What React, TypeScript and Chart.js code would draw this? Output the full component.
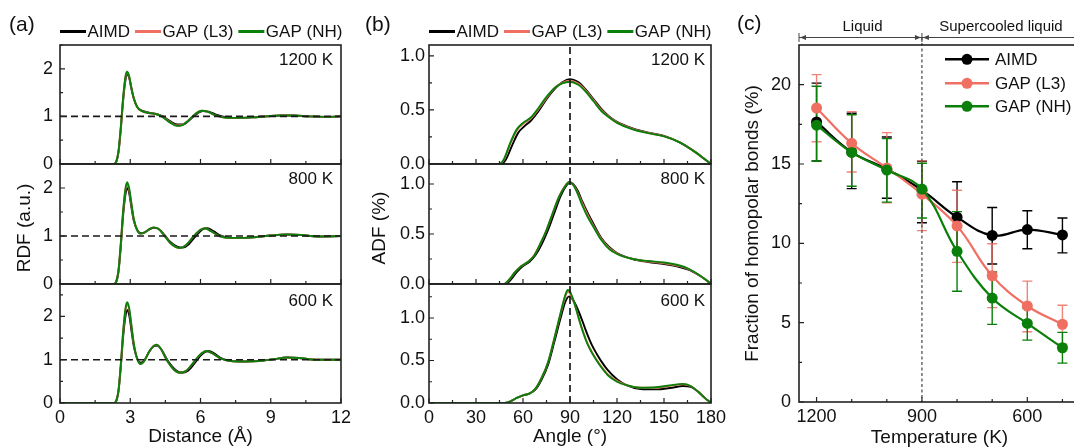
import React, { useEffect, useRef } from 'react';
import { Chart, registerables } from 'chart.js';

Chart.register(...registerables);

type Pt = [number, number];

// ---------------- Panel (a): RDF ----------------
const RDF_X_TICKS = [0, 3, 6, 9, 12];
const RDF_X_MINOR = [1.5, 4.5, 7.5, 10.5];
const RDF_Y_TICKS = [0, 1, 2];
const RDF_Y_MINOR = [0.5, 1.5, 2.5];
const RDF_Y_MAX = [2.5, 2.5, 2.75];
const TEMP_LABELS = ['1200 K', '800 K', '600 K'];
const RDF_REF_LINE: Pt[] = [[0, 1], [12, 1]];

const RDF_1200_AIMD: Pt[] = [[0,0],[2.3,0],[2.4,0.04],[2.5,0.25],[2.6,0.75],[2.7,1.35],[2.8,1.78],[2.88,1.89],[2.96,1.8],[3.05,1.58],[3.15,1.38],[3.3,1.2],[3.5,1.12],[3.8,1.08],[4.1,1.05],[4.4,1.0],[4.7,0.9],[5.0,0.83],[5.25,0.83],[5.5,0.91],[5.8,1.04],[6.1,1.11],[6.35,1.1],[6.7,1.03],[7.1,0.98],[7.6,0.97],[8.2,0.98],[8.8,1.0],[9.4,1.02],[10.0,1.02],[10.6,1.0],[11.3,0.99],[12,1.0]];
const RDF_1200_L3: Pt[] = [[0,0],[2.3,0],[2.4,0.05],[2.5,0.27],[2.6,0.78],[2.7,1.4],[2.8,1.83],[2.87,1.92],[2.95,1.84],[3.05,1.6],[3.15,1.38],[3.3,1.19],[3.5,1.11],[3.8,1.07],[4.1,1.05],[4.4,0.99],[4.7,0.88],[5.0,0.81],[5.2,0.82],[5.45,0.9],[5.75,1.04],[6.05,1.12],[6.3,1.1],[6.65,1.02],[7.1,0.97],[7.6,0.97],[8.2,0.98],[8.8,1.0],[9.4,1.02],[10.0,1.02],[10.6,1.0],[11.3,0.99],[12,1.0]];
const RDF_1200_NH: Pt[] = [[0,0],[2.3,0],[2.4,0.05],[2.5,0.28],[2.6,0.8],[2.7,1.42],[2.8,1.85],[2.87,1.94],[2.95,1.85],[3.05,1.6],[3.15,1.38],[3.3,1.19],[3.5,1.11],[3.8,1.07],[4.1,1.05],[4.4,0.98],[4.7,0.87],[5.0,0.8],[5.2,0.81],[5.45,0.9],[5.75,1.04],[6.05,1.12],[6.3,1.1],[6.65,1.02],[7.1,0.97],[7.6,0.97],[8.2,0.98],[8.8,1.0],[9.4,1.02],[10.0,1.02],[10.6,1.0],[11.3,0.99],[12,1.0]];

const RDF_800_AIMD: Pt[] = [[0,0],[2.3,0],[2.4,0.04],[2.5,0.26],[2.6,0.8],[2.7,1.45],[2.8,1.88],[2.88,2.0],[2.96,1.88],[3.05,1.6],[3.15,1.32],[3.3,1.12],[3.45,1.06],[3.6,1.07],[3.8,1.13],[4.0,1.17],[4.2,1.15],[4.45,1.03],[4.7,0.88],[5.0,0.78],[5.25,0.76],[5.5,0.83],[5.8,1.0],[6.1,1.14],[6.3,1.16],[6.55,1.1],[6.9,1.0],[7.3,0.96],[7.8,0.96],[8.4,0.98],[9.0,1.01],[9.7,1.03],[10.3,1.02],[11.0,0.99],[12,1.0]];
const RDF_800_L3: Pt[] = [[0,0],[2.3,0],[2.4,0.05],[2.5,0.29],[2.6,0.86],[2.7,1.52],[2.8,1.97],[2.87,2.09],[2.95,1.97],[3.05,1.66],[3.15,1.35],[3.3,1.12],[3.45,1.05],[3.6,1.07],[3.8,1.14],[4.0,1.18],[4.2,1.15],[4.45,1.02],[4.7,0.86],[4.95,0.77],[5.15,0.75],[5.4,0.82],[5.7,0.99],[6.0,1.13],[6.2,1.16],[6.45,1.1],[6.8,1.0],[7.3,0.96],[7.8,0.96],[8.4,0.98],[9.0,1.01],[9.7,1.03],[10.3,1.02],[11.0,0.99],[12,1.0]];
const RDF_800_NH: Pt[] = [[0,0],[2.3,0],[2.4,0.05],[2.5,0.3],[2.6,0.88],[2.7,1.55],[2.8,2.0],[2.87,2.12],[2.95,2.0],[3.05,1.68],[3.15,1.36],[3.3,1.12],[3.45,1.05],[3.6,1.07],[3.8,1.14],[4.0,1.18],[4.2,1.15],[4.45,1.01],[4.7,0.86],[4.95,0.77],[5.15,0.75],[5.4,0.82],[5.7,0.99],[6.0,1.13],[6.2,1.16],[6.45,1.1],[6.8,1.0],[7.3,0.96],[7.8,0.96],[8.4,0.98],[9.0,1.01],[9.7,1.03],[10.3,1.02],[11.0,0.99],[12,1.0]];

const RDF_600_AIMD: Pt[] = [[0,0],[2.3,0],[2.4,0.04],[2.5,0.28],[2.6,0.85],[2.7,1.55],[2.8,2.02],[2.88,2.15],[2.96,2.02],[3.05,1.68],[3.15,1.32],[3.3,1.02],[3.45,0.93],[3.6,0.98],[3.8,1.18],[4.0,1.31],[4.15,1.33],[4.35,1.22],[4.6,0.98],[4.9,0.78],[5.2,0.7],[5.45,0.74],[5.75,0.92],[6.05,1.12],[6.35,1.2],[6.6,1.14],[6.9,1.03],[7.3,0.97],[7.9,0.96],[8.5,0.97],[9.1,1.01],[9.7,1.05],[10.2,1.04],[10.9,1.0],[12,1.0]];
const RDF_600_L3: Pt[] = [[0,0],[2.3,0],[2.4,0.05],[2.5,0.3],[2.6,0.9],[2.7,1.65],[2.8,2.16],[2.87,2.29],[2.95,2.17],[3.05,1.78],[3.15,1.37],[3.3,1.02],[3.45,0.9],[3.6,0.97],[3.8,1.18],[4.0,1.32],[4.12,1.35],[4.3,1.26],[4.55,1.0],[4.85,0.78],[5.1,0.7],[5.35,0.73],[5.65,0.9],[5.95,1.1],[6.25,1.2],[6.5,1.15],[6.85,1.03],[7.3,0.97],[7.9,0.96],[8.5,0.97],[9.1,1.01],[9.7,1.05],[10.2,1.04],[10.9,1.0],[12,1.0]];
const RDF_600_NH: Pt[] = [[0,0],[2.3,0],[2.4,0.05],[2.5,0.3],[2.6,0.92],[2.7,1.68],[2.8,2.2],[2.87,2.33],[2.95,2.2],[3.05,1.8],[3.15,1.38],[3.3,1.02],[3.45,0.9],[3.6,0.97],[3.8,1.18],[4.0,1.32],[4.12,1.35],[4.3,1.26],[4.55,1.0],[4.85,0.78],[5.1,0.7],[5.35,0.73],[5.65,0.9],[5.95,1.1],[6.25,1.2],[6.5,1.15],[6.85,1.03],[7.3,0.97],[7.9,0.96],[8.5,0.97],[9.1,1.01],[9.7,1.05],[10.2,1.04],[10.9,1.0],[12,1.0]];

// ---------------- Panel (b): ADF ----------------
const ADF_X_TICKS = [0, 30, 60, 90, 120, 150, 180];
const ADF_X_MINOR = [15, 45, 75, 105, 135, 165];
const ADF_Y_TICKS = [0, 0.5, 1.0];
const ADF_Y_MINOR = [0.25, 0.75, 1.25];
const ADF_Y_MAX = [1.1, 1.2, 1.4];
const ADF_REF_ANGLE = 90;

const ADF_1200_AIMD: Pt[] = [[0,0],[46,0],[49,0.04],[53,0.17],[57,0.29],[61,0.35],[65,0.4],[70,0.49],[75,0.6],[80,0.69],[85,0.755],[90,0.785],[95,0.76],[100,0.69],[105,0.6],[110,0.51],[115,0.44],[120,0.39],[130,0.33],[140,0.29],[150,0.26],[160,0.2],[170,0.11],[175,0.055],[180,0]];
const ADF_1200_L3: Pt[] = [[0,0],[45,0],[48,0.045],[52,0.19],[56,0.31],[60,0.37],[65,0.42],[70,0.51],[75,0.61],[80,0.7],[85,0.75],[90,0.77],[95,0.745],[100,0.68],[105,0.59],[110,0.5],[115,0.435],[120,0.385],[130,0.325],[140,0.287],[150,0.257],[160,0.2],[170,0.11],[175,0.055],[180,0]];
const ADF_1200_NH: Pt[] = [[0,0],[45,0],[48,0.05],[52,0.2],[56,0.32],[60,0.38],[65,0.43],[70,0.52],[75,0.62],[80,0.7],[85,0.745],[90,0.76],[95,0.735],[100,0.67],[105,0.58],[110,0.49],[115,0.43],[120,0.38],[130,0.32],[140,0.285],[150,0.255],[160,0.2],[170,0.11],[175,0.055],[180,0]];

const ADF_800_AIMD: Pt[] = [[0,0],[49,0],[52,0.04],[56,0.12],[60,0.18],[64,0.22],[68,0.29],[72,0.4],[76,0.54],[80,0.71],[84,0.88],[88,0.99],[90,1.015],[92,1.0],[95,0.93],[98,0.82],[101,0.72],[105,0.6],[110,0.46],[115,0.37],[120,0.31],[130,0.25],[140,0.22],[150,0.2],[160,0.17],[166,0.14],[172,0.09],[176,0.05],[180,0]];
const ADF_800_L3: Pt[] = [[0,0],[48,0],[51,0.04],[55,0.12],[59,0.18],[63,0.22],[67,0.285],[71,0.4],[75,0.54],[79,0.71],[83,0.875],[87,0.985],[89.5,1.02],[92,0.995],[95,0.91],[98,0.8],[101,0.7],[105,0.58],[110,0.45],[115,0.36],[120,0.305],[130,0.25],[140,0.225],[150,0.208],[160,0.178],[166,0.145],[172,0.092],[176,0.05],[180,0]];
const ADF_800_NH: Pt[] = [[0,0],[48,0],[51,0.04],[55,0.12],[59,0.18],[63,0.22],[67,0.28],[71,0.4],[75,0.54],[79,0.71],[83,0.87],[87,0.98],[89.5,1.02],[92,0.99],[95,0.9],[98,0.78],[101,0.68],[105,0.57],[110,0.44],[115,0.35],[120,0.3],[130,0.25],[140,0.23],[150,0.215],[160,0.185],[166,0.15],[172,0.095],[176,0.05],[180,0]];

const ADF_600_AIMD: Pt[] = [[0,0],[48,0],[52,0.02],[56,0.06],[60,0.09],[64,0.11],[68,0.16],[72,0.28],[76,0.45],[80,0.72],[84,1.0],[87,1.19],[89.5,1.255],[92,1.21],[95,1.1],[98,0.96],[101,0.81],[104,0.68],[107,0.58],[110,0.49],[114,0.39],[120,0.28],[126,0.21],[135,0.165],[145,0.16],[155,0.18],[162,0.2],[167,0.19],[172,0.13],[176,0.06],[180,0]];
const ADF_600_L3: Pt[] = [[0,0],[48,0],[52,0.02],[56,0.06],[60,0.09],[64,0.11],[68,0.17],[72,0.3],[76,0.48],[80,0.76],[84,1.05],[87,1.25],[88.5,1.31],[90,1.29],[92,1.21],[94,1.1],[96,0.97],[98,0.86],[101,0.71],[104,0.6],[107,0.51],[110,0.43],[114,0.34],[120,0.26],[126,0.21],[135,0.18],[145,0.18],[155,0.205],[162,0.22],[167,0.2],[172,0.13],[176,0.06],[180,0]];
const ADF_600_NH: Pt[] = [[0,0],[48,0],[52,0.02],[56,0.06],[60,0.09],[64,0.11],[68,0.17],[72,0.3],[76,0.48],[80,0.76],[84,1.06],[87,1.27],[88.5,1.33],[90,1.31],[92,1.22],[94,1.1],[96,0.97],[98,0.85],[101,0.7],[104,0.59],[107,0.5],[110,0.42],[114,0.33],[120,0.25],[126,0.21],[135,0.18],[145,0.185],[155,0.21],[162,0.225],[167,0.2],[172,0.13],[176,0.06],[180,0]];

// ---------------- Panel (c): homopolar bonds ----------------
const HB_TEMPS = [1200, 1100, 1000, 900, 800, 700, 600, 500];
const HB_AIMD = [17.65, 15.75, 14.68, 13.35, 11.65, 10.5, 10.87, 10.53];
const HB_AIMD_LO = [15.2, 13.45, 12.84, 11.3, 9.4, 8.7, 9.66, 9.4];
const HB_AIMD_HI = [20.1, 18.2, 16.7, 15.17, 13.88, 12.26, 12.05, 11.6];
const HB_L3 = [18.53, 16.3, 14.75, 13.1, 11.1, 7.95, 6.05, 4.9];
const HB_L3_LO = [16.4, 14.5, 12.55, 10.8, 8.8, 5.95, 4.43, 3.65];
const HB_L3_HI = [20.63, 18.3, 16.98, 15.2, 13.35, 9.97, 7.62, 6.1];
const HB_NH = [17.45, 15.73, 14.62, 13.42, 9.5, 6.55, 4.95, 3.42];
const HB_NH_LO = [15.17, 13.6, 12.6, 11.6, 6.98, 4.89, 3.9, 2.45];
const HB_NH_HI = [19.9, 18.1, 16.6, 15.05, 12.0, 8.19, 5.9, 4.39];
const HB_X_TICKS = [1200, 900, 600];
const HB_X_MINOR = [1100, 1000, 800, 700, 500];
const HB_Y_TICKS = [0, 5, 10, 15, 20];
const HB_Y_MINOR = [2.5, 7.5, 12.5, 17.5];
const HB_X_RANGE = [450, 1250];
const HB_Y_RANGE = [0, 22.5];
const HB_BOUNDARY_T = 900;
const SERIES_NAMES = ['AIMD', 'GAP (L3)', 'GAP (NH)'];

// ---------------- styling ----------------
const FONT = "Arial, 'Liberation Sans', Helvetica, sans-serif";
const INK = '#111111';
const C_AIMD = '#000000';
const C_L3 = '#EF6F62';
const C_NH = '#0A800A';
const COLORS = [C_AIMD, C_L3, C_NH];

const toXY = (a: Pt[]) => a.map(([x, y]) => ({ x, y }));

function curve(label: string, data: Pt[], color: string, order: number) {
  return {
    label,
    data: toXY(data),
    borderColor: color,
    backgroundColor: color,
    borderWidth: 1.9,
    pointRadius: 0,
    pointHoverRadius: 0,
    fill: false,
    tension: 0.4,
    cubicInterpolationMode: 'monotone',
    order,
  };
}

function refDataset(data: Pt[]) {
  return {
    label: 'ref',
    data: toXY(data),
    borderColor: '#1a1a1a',
    borderWidth: 1.7,
    borderDash: [7, 4],
    pointRadius: 0,
    pointHoverRadius: 0,
    fill: false,
    tension: 0,
    order: 0,
  };
}

function framePlugin(spec: { xMajor: number[]; xMinor: number[]; yMajor: number[]; yMinor: number[] }) {
  return {
    id: 'frameTicks',
    afterDatasetsDraw(chart: any) {
      const { ctx, chartArea: a } = chart;
      const xs = chart.scales.x;
      const ys = chart.scales.y;
      ctx.save();
      ctx.strokeStyle = '#222222';
      ctx.lineWidth = 1.2;
      ctx.beginPath();
      const tx = (v: number, len: number) => {
        const p = xs.getPixelForValue(v);
        ctx.moveTo(p, a.bottom);
        ctx.lineTo(p, a.bottom - len);
      };
      const ty = (v: number, len: number) => {
        const p = ys.getPixelForValue(v);
        if (p < a.top - 0.5 || p > a.bottom + 0.5) return;
        ctx.moveTo(a.left, p);
        ctx.lineTo(a.left + len, p);
      };
      spec.xMajor.forEach((v) => tx(v, 5));
      spec.xMinor.forEach((v) => tx(v, 3));
      spec.yMajor.forEach((v) => ty(v, 5));
      spec.yMinor.forEach((v) => ty(v, 3));
      ctx.stroke();
      ctx.lineWidth = 1.6;
      ctx.strokeRect(a.left, a.top, a.right - a.left, a.bottom - a.top);
      ctx.restore();
    },
  };
}

function decorPlugin(offX: number, offY: number, draw: (ctx: CanvasRenderingContext2D, chart: any) => void) {
  return {
    id: 'decor',
    afterDraw(chart: any) {
      const ctx = chart.ctx as CanvasRenderingContext2D;
      ctx.save();
      ctx.translate(-offX, -offY);
      draw(ctx, chart);
      ctx.restore();
    },
  };
}

function drawLineLegend(ctx: CanvasRenderingContext2D, x0: number, y: number) {
  ctx.font = `17px ${FONT}`;
  ctx.textBaseline = 'middle';
  ctx.textAlign = 'left';
  let x = x0;
  SERIES_NAMES.forEach((label, i) => {
    ctx.strokeStyle = COLORS[i];
    ctx.lineWidth = 3;
    ctx.beginPath();
    ctx.moveTo(x, y);
    ctx.lineTo(x + 26, y);
    ctx.stroke();
    ctx.fillStyle = INK;
    ctx.fillText(label, x + 27.5, y + 1);
    x += 27.5 + ctx.measureText(label).width + 5;
  });
}

function text(ctx: CanvasRenderingContext2D, s: string, x: number, y: number, size: number, align: CanvasTextAlign = 'left') {
  ctx.font = `${size}px ${FONT}`;
  ctx.fillStyle = INK;
  ctx.textAlign = align;
  ctx.textBaseline = 'middle';
  ctx.fillText(s, x, y);
}

function vText(ctx: CanvasRenderingContext2D, s: string, x: number, y: number, size: number) {
  ctx.save();
  ctx.translate(x, y);
  ctx.rotate(-Math.PI / 2);
  text(ctx, s, 0, 0, size, 'center');
  ctx.restore();
}

// ---------------- layout (positions only) ----------------
const ROWS = [
  { top: 45, bottom: 164 },
  { top: 164, bottom: 284 },
  { top: 284, bottom: 403 },
];
const EDGE = 24;
const X_AXIS_H = 45;
const PANELS = {
  a: { left: 0, yAxisW: 60, plotW: 281, padRight: 24, labelPad: 7 },
  b: { left: 360, yAxisW: 69, plotW: 282, padRight: 24, labelPad: 4 },
};
const C_BOX = { left: 730, top: 0, yAxisW: 69, padTop: 45, plotW: 281, padRight: 10, plotBottom: 402, xAxisH: 47 };

function rowGeom(i: number) {
  const r = ROWS[i];
  const last = i === ROWS.length - 1;
  const top = i === 0 ? 0 : r.top - EDGE;
  const padTop = r.top - top;
  const padBottom = last ? 0 : EDGE;
  const height = padTop + (r.bottom - r.top) + padBottom + (last ? X_AXIS_H : 0);
  return { top, padTop, padBottom, height, last };
}

function canvasSpecs() {
  const specs: { key: string; left: number; top: number; width: number; height: number }[] = [];
  (['a', 'b'] as const).forEach((p) => {
    const P = PANELS[p];
    ROWS.forEach((_, i) => {
      const g = rowGeom(i);
      specs.push({ key: `${p}${i}`, left: P.left, top: g.top, width: P.yAxisW + P.plotW + P.padRight, height: g.height });
    });
  });
  specs.push({
    key: 'c',
    left: C_BOX.left,
    top: C_BOX.top,
    width: C_BOX.yAxisW + C_BOX.plotW + C_BOX.padRight,
    height: C_BOX.plotBottom + C_BOX.xAxisH,
  });
  return specs;
}

const RDF_SETS = [
  [RDF_1200_AIMD, RDF_1200_L3, RDF_1200_NH],
  [RDF_800_AIMD, RDF_800_L3, RDF_800_NH],
  [RDF_600_AIMD, RDF_600_L3, RDF_600_NH],
];
const ADF_SETS = [
  [ADF_1200_AIMD, ADF_1200_L3, ADF_1200_NH],
  [ADF_800_AIMD, ADF_800_L3, ADF_800_NH],
  [ADF_600_AIMD, ADF_600_L3, ADF_600_NH],
];

function subplotConfig(panel: 'a' | 'b', i: number, canvasTop: number) {
  const P = PANELS[panel];
  const g = rowGeom(i);
  const isA = panel === 'a';
  const sets = isA ? RDF_SETS[i] : ADF_SETS[i];
  const yMax = isA ? RDF_Y_MAX[i] : ADF_Y_MAX[i];
  const xTicks = isA ? RDF_X_TICKS : ADF_X_TICKS;
  const xMinor = isA ? RDF_X_MINOR : ADF_X_MINOR;
  const yTicks = isA ? RDF_Y_TICKS : ADF_Y_TICKS;
  const yMinor = isA ? RDF_Y_MINOR : ADF_Y_MINOR;
  const ref: Pt[] = isA ? RDF_REF_LINE : [[ADF_REF_ANGLE, 0], [ADF_REF_ANGLE, yMax]];
  const plotRight = P.left + P.yAxisW + P.plotW;

  const datasets: any[] = [
    refDataset(ref),
    curve(SERIES_NAMES[0], sets[0], C_AIMD, 3),
    curve(SERIES_NAMES[1], sets[1], C_L3, 2),
    curve(SERIES_NAMES[2], sets[2], C_NH, 1),
  ];

  const tickFont = { family: FONT, size: 18 };
  const decor = decorPlugin(P.left, canvasTop, (ctx) => {
    text(ctx, TEMP_LABELS[i], plotRight - (isA ? 8 : 6), ROWS[i].top + (i === 2 ? 17 : 15), 17, 'right');
    if (i === 0) {
      text(ctx, isA ? '(a)' : '(b)', isA ? 9 : 365, 25, 21, 'left');
      drawLineLegend(ctx, P.left + P.yAxisW, 31.5);
    }
    if (i === 1) {
      vText(ctx, isA ? 'RDF (a.u.)' : 'ADF (%)', isA ? 25 : 380, 228, 19);
    }
  });

  return {
    type: 'line',
    data: { datasets },
    options: {
      responsive: false,
      animation: false,
      events: [],
      layout: { padding: { left: 0, right: P.padRight, top: g.padTop, bottom: g.padBottom }, autoPadding: false },
      plugins: { legend: { display: false }, tooltip: { enabled: false } },
      scales: {
        x: {
          type: 'linear',
          min: xTicks[0],
          max: xTicks[xTicks.length - 1],
          display: g.last,
          position: 'bottom',
          grid: { display: false, drawTicks: false },
          border: { display: false },
          afterBuildTicks: (ax: any) => {
            ax.ticks = xTicks.map((value) => ({ value }));
          },
          ticks: { font: tickFont, color: INK, padding: 4, maxRotation: 0, autoSkip: false, callback: (v: any) => String(v) },
          title: {
            display: g.last,
            text: isA ? 'Distance (Å)' : 'Angle (°)',
            font: { family: FONT, size: 19 },
            color: INK,
            padding: 0,
          },
          afterFit: (ax: any) => {
            if (g.last) ax.height = X_AXIS_H;
          },
        },
        y: {
          type: 'linear',
          min: 0,
          max: yMax,
          position: 'left',
          grid: { display: false, drawTicks: false },
          border: { display: false },
          afterBuildTicks: (ax: any) => {
            ax.ticks = yTicks.map((value) => ({ value }));
          },
          ticks: {
            font: tickFont,
            color: INK,
            padding: P.labelPad,
            autoSkip: false,
            callback: (v: any) => (isA ? String(v) : Number(v).toFixed(1)),
          },
          afterFit: (ax: any) => {
            ax.width = P.yAxisW;
          },
        },
      },
    },
    plugins: [framePlugin({ xMajor: xTicks, xMinor, yMajor: yTicks, yMinor }), decor],
  };
}

function panelCConfig() {
  const seriesVals = [HB_AIMD, HB_L3, HB_NH];
  const lows = [HB_AIMD_LO, HB_L3_LO, HB_NH_LO];
  const highs = [HB_AIMD_HI, HB_L3_HI, HB_NH_HI];
  const errColors = ['#000000', 'rgba(239,111,98,0.85)', C_NH];

  const datasets = seriesVals.map((vals, k) => ({
    label: SERIES_NAMES[k],
    data: HB_TEMPS.map((t, i) => ({ x: t, y: vals[i] })),
    borderColor: COLORS[k],
    backgroundColor: COLORS[k],
    borderWidth: 2.2,
    pointRadius: 5.5,
    pointBorderWidth: 0,
    pointHoverRadius: 5.5,
    tension: 0.4,
    fill: false,
    order: 3 - k,
  }));

  const errorBars = {
    id: 'errorBars',
    beforeDatasetsDraw(chart: any) {
      const { ctx } = chart;
      const xs = chart.scales.x;
      const ys = chart.scales.y;
      ctx.save();
      ctx.lineWidth = 1.4;
      seriesVals.forEach((_, k) => {
        ctx.strokeStyle = errColors[k];
        ctx.beginPath();
        HB_TEMPS.forEach((t, i) => {
          const x = xs.getPixelForValue(t);
          const y1 = ys.getPixelForValue(lows[k][i]);
          const y2 = ys.getPixelForValue(highs[k][i]);
          ctx.moveTo(x, y1);
          ctx.lineTo(x, y2);
          ctx.moveTo(x - 5, y1);
          ctx.lineTo(x + 5, y1);
          ctx.moveTo(x - 5, y2);
          ctx.lineTo(x + 5, y2);
        });
        ctx.stroke();
      });
      // boundary between liquid and supercooled liquid
      const bx = xs.getPixelForValue(HB_BOUNDARY_T);
      ctx.strokeStyle = '#444444';
      ctx.lineWidth = 1.2;
      ctx.setLineDash([3, 2.5]);
      ctx.beginPath();
      ctx.moveTo(bx, 37.5);
      ctx.lineTo(bx, chart.chartArea.bottom);
      ctx.stroke();
      ctx.restore();
    },
  };

  const decor = decorPlugin(C_BOX.left, C_BOX.top, (ctx, chart) => {
    const xs = chart.scales.x;
    const a = chart.chartArea;
    const L = a.left + C_BOX.left;
    const R = a.right + C_BOX.left;
    const B = xs.getPixelForValue(HB_BOUNDARY_T) + C_BOX.left;
    text(ctx, '(c)', 737, 24, 21, 'left');
    // region arrows
    const y = 37.5;
    ctx.strokeStyle = '#444444';
    ctx.fillStyle = '#444444';
    ctx.lineWidth = 1;
    ctx.beginPath();
    ctx.moveTo(L, y);
    ctx.lineTo(R, y);
    [L, B].forEach((x) => {
      ctx.moveTo(x, y - 4.5);
      ctx.lineTo(x, y + 4.5);
    });
    ctx.stroke();
    const head = (tip: number, dir: number) => {
      ctx.beginPath();
      ctx.moveTo(tip, y);
      ctx.lineTo(tip - dir * 6, y - 2.5);
      ctx.lineTo(tip - dir * 6, y + 2.5);
      ctx.closePath();
      ctx.fill();
    };
    head(L + 1, -1);
    head(B - 1, 1);
    head(B + 1, -1);
    text(ctx, 'Liquid', (L + B) / 2 + 2, 26.5, 15, 'center');
    text(ctx, 'Supercooled liquid', (B + R) / 2, 26.5, 15, 'center');
    // legend
    const rowsY = [59.3, 83.3, 106.3];
    SERIES_NAMES.forEach((name, k) => {
      const yy = rowsY[k];
      ctx.strokeStyle = COLORS[k];
      ctx.fillStyle = COLORS[k];
      ctx.lineWidth = 2.4;
      ctx.beginPath();
      ctx.moveTo(945, yy);
      ctx.lineTo(989, yy);
      ctx.stroke();
      ctx.beginPath();
      ctx.arc(967, yy, 5.5, 0, Math.PI * 2);
      ctx.fill();
      text(ctx, name, 995, yy + 1, 17, 'left');
    });
  });

  const tickFont = { family: FONT, size: 18 };
  return {
    type: 'line',
    data: { datasets },
    options: {
      responsive: false,
      animation: false,
      events: [],
      layout: { padding: { left: 0, right: C_BOX.padRight, top: C_BOX.padTop, bottom: 0 }, autoPadding: false },
      plugins: { legend: { display: false }, tooltip: { enabled: false } },
      scales: {
        x: {
          type: 'linear',
          reverse: true,
          min: HB_X_RANGE[0],
          max: HB_X_RANGE[1],
          position: 'bottom',
          grid: { display: false, drawTicks: false },
          border: { display: false },
          afterBuildTicks: (ax: any) => {
            ax.ticks = HB_X_TICKS.map((value) => ({ value }));
          },
          ticks: { font: tickFont, color: INK, padding: 4, maxRotation: 0, autoSkip: false, callback: (v: any) => String(v) },
          title: { display: true, text: 'Temperature (K)', font: { family: FONT, size: 19 }, color: INK, padding: 0 },
          afterFit: (ax: any) => {
            ax.height = C_BOX.xAxisH;
          },
        },
        y: {
          type: 'linear',
          min: HB_Y_RANGE[0],
          max: HB_Y_RANGE[1],
          position: 'left',
          grid: { display: false, drawTicks: false },
          border: { display: false },
          afterBuildTicks: (ax: any) => {
            ax.ticks = HB_Y_TICKS.map((value) => ({ value }));
          },
          ticks: { font: tickFont, color: INK, padding: 8, autoSkip: false, callback: (v: any) => String(v) },
          title: {
            display: true,
            text: 'Fraction of homopolar bonds (%)',
            font: { family: FONT, size: 19 },
            color: INK,
            padding: { top: 11.6, bottom: 0 },
          },
          afterFit: (ax: any) => {
            ax.width = C_BOX.yAxisW;
          },
        },
      },
    },
    plugins: [errorBars, framePlugin({ xMajor: HB_X_TICKS, xMinor: HB_X_MINOR, yMajor: HB_Y_TICKS, yMinor: HB_Y_MINOR }), decor],
  };
}

export default function App() {
  const specs = canvasSpecs();
  const refs = useRef<Record<string, HTMLCanvasElement | null>>({});

  useEffect(() => {
    const charts: Chart[] = [];
    specs.forEach((s) => {
      const el = refs.current[s.key];
      if (!el) return;
      let cfg: any;
      if (s.key === 'c') cfg = panelCConfig();
      else cfg = subplotConfig(s.key[0] as 'a' | 'b', Number(s.key[1]), s.top);
      charts.push(new Chart(el, cfg));
    });
    return () => charts.forEach((c) => c.destroy());
  }, []);

  return (
    <div
      style={{
        position: 'fixed',
        left: 0,
        top: 0,
        width: 1074,
        height: 447,
        overflow: 'hidden',
        background: '#ffffff',
      }}
    >
      {specs.map((s) => (
        <canvas
          key={s.key}
          ref={(el) => {
            refs.current[s.key] = el;
          }}
          width={s.width}
          height={s.height}
          style={{ position: 'absolute', left: s.left, top: s.top, width: s.width, height: s.height, display: 'block' }}
        />
      ))}
    </div>
  );
}
